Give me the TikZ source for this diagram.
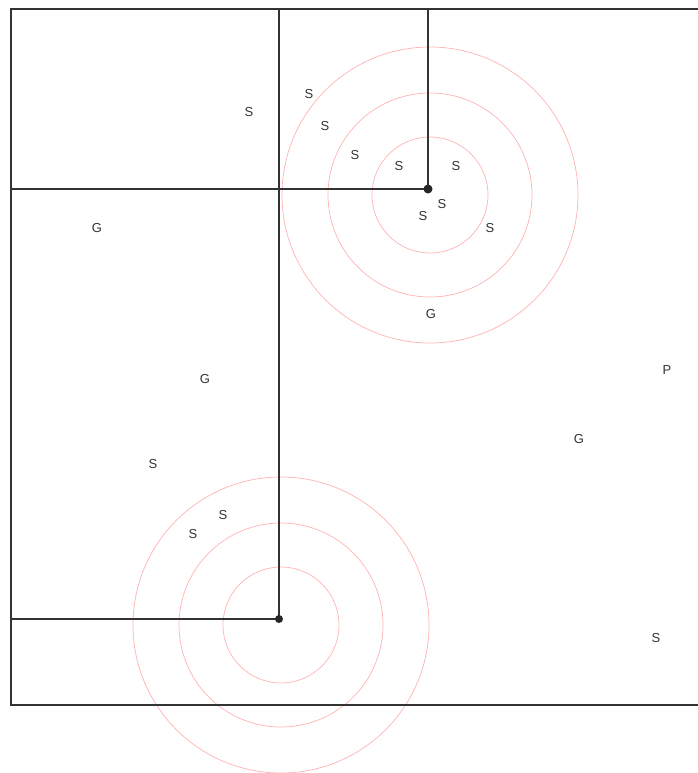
\documentclass[tikz,border=0pt]{standalone}
\usepackage{fontspec}
\setmainfont{Liberation Sans}
\usetikzlibrary{positioning,calc}

\begin{document}
\begin{tikzpicture}[x=1pt,y=-1pt,every node/.style={font=\fontsize{13}{15}\selectfont,text=black!80,inner sep=0pt}]
    \useasboundingbox (0,0) rectangle (698,773);
    \coordinate (hubA) at (428,189);
    \coordinate (hubB) at (279,619);
    % rings round the two hubs
    \foreach \r in {58,102,148} {
      \draw[red!30,line width=0.7pt] ($(hubA)+(2,6)$) circle (\r);
      \draw[red!30,line width=0.7pt] ($(hubB)+(2,6)$) circle (\r);
    }
    % frame and splits
    \begin{scope}[black!80,line width=1.8pt]
      \draw (698,9) -- (11,9) -- (11,705) -- (698,705);
      \draw (279,9) -- (hubB);
      \draw (11,189) -- (hubA);
      \draw (428,9) -- (hubA);
      \draw (11,619) -- (hubB);
    \end{scope}
    \fill[black!85] (hubA) circle (4.5);
    \fill[black!85] (hubB) circle (4);
    % labels
    \foreach \x/\y/\t [count=\i] in {
        249/112/S, 309/94/S, 325/126/S, 355/155/S, 399/166/S,
        456/166/S, 442/204/S, 423/216/S, 490/228/S, 431/314/G,
        97/228/G, 205/379/G, 153/464/S, 223/515/S, 193/534/S,
        667/370/P, 579/439/G, 656/638/S
    } {
      \node (lab\i) at (\x,\y) {\t};
    }
  \end{tikzpicture}
\end{document}
